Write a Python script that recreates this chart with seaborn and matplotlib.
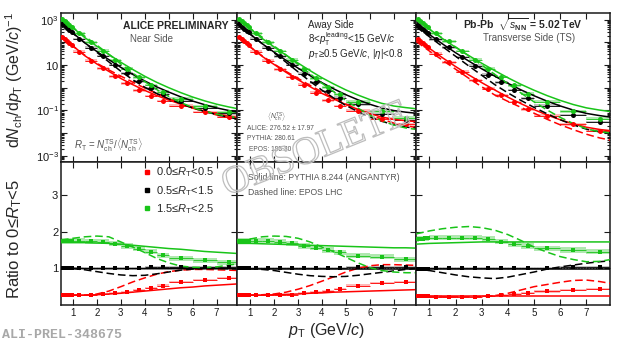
import numpy as np
import pandas as pd
import matplotlib
matplotlib.use("Agg")
import matplotlib.pyplot as plt
import seaborn as sns
from matplotlib import patheffects
from matplotlib.lines import Line2D
from matplotlib.ticker import FixedLocator, LogLocator, NullFormatter

# ---------------- data ----------------
pt_data = [0.55, 0.65, 0.75, 0.85, 0.95, 1.25, 1.75, 2.25, 2.75, 3.25, 3.75, 4.25, 4.75, 5.5, 6.5, 7.5]
pt_halfw = [0.05, 0.05, 0.05, 0.05, 0.05, 0.25, 0.25, 0.25, 0.25, 0.25, 0.25, 0.25, 0.25, 0.5, 0.5, 0.5]
pt_model = [0.5, 1.0, 1.5, 2.0, 2.5, 3.0, 3.5, 4.0, 4.5, 5.0, 5.5, 6.0, 6.5, 7.0, 7.5, 8.0]

classes = ["0.0≤$R_{\\rm T}$<0.5", "0.5≤$R_{\\rm T}$<1.5", "1.5≤$R_{\\rm T}$<2.5"]
sides = ["near", "away", "trans"]

# inclusive (0<=RT<5) spectra
incl_data = {
    "near":  [620, 510, 420, 345, 285, 143, 58, 25, 10, 4.3, 1.9, 0.91, 0.49, 0.26, 0.125, 0.072],
    "away":  [620, 500, 410, 335, 275, 145, 58, 24, 10.5, 4.2, 1.7, 0.70, 0.36, 0.18, 0.07, 0.038],
    "trans": [600, 490, 400, 325, 265, 140, 60, 23, 9.5, 3.8, 1.7, 0.78, 0.34, 0.155, 0.06, 0.03],
}
incl_pythia = {
    "near":  [700, 260, 95, 40, 17.5, 8, 3.9, 2.0, 1.1, 0.65, 0.40, 0.26, 0.18, 0.13, 0.10, 0.08],
    "away":  [650, 240, 90, 38, 16.5, 7.5, 3.5, 1.7, 0.9, 0.5, 0.3, 0.19, 0.13, 0.10, 0.085, 0.075],
    "trans": [620, 230, 88, 36, 15.5, 7, 3.3, 1.6, 0.82, 0.45, 0.26, 0.16, 0.105, 0.075, 0.06, 0.05],
}
incl_epos = {
    "near":  [650, 250, 100, 40, 16, 6.5, 2.8, 1.3, 0.65, 0.36, 0.21, 0.13, 0.09, 0.065, 0.05, 0.04],
    "away":  [600, 230, 92, 37, 15, 6, 2.4, 1.0, 0.45, 0.21, 0.11, 0.06, 0.037, 0.025, 0.019, 0.016],
    "trans": [500, 190, 75, 30, 12, 4.8, 1.9, 0.78, 0.33, 0.15, 0.072, 0.037, 0.021, 0.013, 0.0095, 0.008],
}

# ratios to 0<=RT<5 : data
ratio_data = {
    "near": [
        [0.27, 0.27, 0.27, 0.27, 0.27, 0.27, 0.27, 0.29, 0.32, 0.36, 0.40, 0.47, 0.53, 0.62, 0.68, 0.73],
        [1.0, 1.0, 1.0, 1.0, 1.0, 1.0, 1.0, 1.0, 1.01, 1.01, 1.02, 1.03, 1.04, 1.03, 1.03, 1.03],
        [1.75, 1.75, 1.75, 1.75, 1.75, 1.75, 1.74, 1.73, 1.67, 1.61, 1.54, 1.45, 1.36, 1.28, 1.22, 1.16],
    ],
    "away": [
        [0.27, 0.27, 0.27, 0.27, 0.27, 0.27, 0.27, 0.27, 0.28, 0.32, 0.35, 0.39, 0.43, 0.53, 0.61, 0.63],
        [1.0, 1.0, 1.0, 1.0, 1.0, 1.0, 1.0, 1.0, 1.0, 1.01, 1.01, 1.02, 1.02, 1.03, 1.03, 1.04],
        [1.75, 1.75, 1.75, 1.75, 1.75, 1.75, 1.75, 1.73, 1.68, 1.61, 1.56, 1.50, 1.44, 1.34, 1.32, 1.25],
    ],
    "trans": [
        [0.24, 0.24, 0.24, 0.24, 0.24, 0.23, 0.22, 0.22, 0.22, 0.24, 0.27, 0.30, 0.33, 0.37, 0.41, 0.43],
        [0.99, 0.99, 0.99, 0.99, 0.99, 1.0, 1.0, 1.0, 1.0, 1.0, 1.01, 1.01, 1.02, 1.02, 1.03, 1.03],
        [1.80, 1.81, 1.81, 1.82, 1.82, 1.83, 1.84, 1.84, 1.83, 1.80, 1.73, 1.66, 1.61, 1.55, 1.50, 1.45],
    ],
}
ratio_syst = [0.03, 0.03, 0.07]

# ratios : PYTHIA 8.244 (Angantyr)
ratio_pythia = {
    "near": [
        [0.27, 0.27, 0.27, 0.28, 0.30, 0.32, 0.35, 0.38, 0.41, 0.44, 0.47, 0.49, 0.52, 0.54, 0.56, 0.58],
        [1.0, 1.0, 0.99, 0.99, 0.99, 0.99, 0.99, 0.99, 0.99, 0.99, 0.99, 0.99, 0.99, 0.99, 0.99, 0.99],
        [1.70, 1.70, 1.70, 1.69, 1.68, 1.66, 1.63, 1.60, 1.57, 1.54, 1.52, 1.49, 1.46, 1.44, 1.42, 1.40],
    ],
    "away": [
        [0.27, 0.27, 0.27, 0.28, 0.29, 0.30, 0.32, 0.33, 0.35, 0.36, 0.37, 0.38, 0.39, 0.40, 0.41, 0.42],
        [0.98, 0.98, 0.98, 0.98, 0.98, 0.98, 0.98, 0.98, 0.98, 0.98, 0.98, 0.98, 0.98, 0.98, 0.98, 0.98],
        [1.68, 1.68, 1.67, 1.66, 1.65, 1.64, 1.63, 1.62, 1.61, 1.60, 1.59, 1.58, 1.57, 1.56, 1.56, 1.55],
    ],
    "trans": [
        [0.24, 0.24, 0.24, 0.24, 0.24, 0.24, 0.24, 0.24, 0.24, 0.24, 0.24, 0.24, 0.24, 0.24, 0.24, 0.24],
        [0.98, 0.98, 0.98, 0.98, 0.98, 0.98, 0.98, 0.98, 0.98, 0.98, 0.98, 0.98, 0.98, 0.98, 0.98, 0.98],
        [1.66, 1.68, 1.69, 1.70, 1.71, 1.72, 1.72, 1.72, 1.72, 1.72, 1.72, 1.72, 1.72, 1.72, 1.72, 1.72],
    ],
}
# ratios : EPOS LHC
ratio_epos = {
    "near": [
        [0.27, 0.27, 0.27, 0.30, 0.38, 0.50, 0.63, 0.74, 0.84, 0.91, 0.95, 0.97, 0.97, 0.96, 0.95, 0.94],
        [1.0, 0.99, 0.96, 0.91, 0.86, 0.82, 0.80, 0.81, 0.85, 0.90, 0.95, 0.98, 1.0, 1.0, 0.99, 0.98],
        [1.77, 1.82, 1.86, 1.88, 1.86, 1.72, 1.58, 1.43, 1.27, 1.15, 1.06, 1.03, 1.02, 1.04, 1.09, 1.13],
    ],
    "away": [
        [0.27, 0.27, 0.28, 0.30, 0.35, 0.43, 0.53, 0.65, 0.77, 0.90, 1.00, 1.07, 1.10, 1.10, 1.09, 1.08],
        [1.0, 0.99, 0.97, 0.94, 0.89, 0.84, 0.80, 0.78, 0.77, 0.78, 0.81, 0.85, 0.89, 0.93, 0.97, 1.0],
        [1.74, 1.80, 1.86, 1.88, 1.87, 1.82, 1.72, 1.58, 1.45, 1.30, 1.15, 1.02, 0.94, 0.90, 0.88, 0.88],
    ],
    "trans": [
        [0.22, 0.22, 0.22, 0.22, 0.22, 0.23, 0.25, 0.32, 0.41, 0.50, 0.56, 0.62, 0.67, 0.68, 0.64, 0.58],
        [0.97, 0.94, 0.88, 0.82, 0.77, 0.74, 0.72, 0.76, 0.83, 0.90, 0.98, 1.04, 1.09, 1.14, 1.18, 1.21],
        [1.94, 2.02, 2.08, 2.12, 2.14, 2.11, 2.04, 1.92, 1.76, 1.58, 1.44, 1.32, 1.24, 1.18, 1.19, 1.25],
    ],
}

colors = ["#ff0000", "#000000", "#19c419"]
light = ["#ffb8b8", "#c0c0c0", "#b0e8b0"]
xlims = [(0.5, 7.85), (0.45, 7.93), (0.49, 7.9)]

# ---------------- style ----------------
sns.set_theme(style="white")
plt.rcParams['font.family'] = ['Liberation Sans', 'DejaVu Sans']
plt.rcParams['mathtext.fontset'] = 'custom'
plt.rcParams['mathtext.rm'] = 'Liberation Sans'
plt.rcParams['mathtext.it'] = 'Liberation Sans:italic'
plt.rcParams['mathtext.bf'] = 'Liberation Sans:bold'

W, H = 620, 345
fig = plt.figure(figsize=(W / 100, H / 100), dpi=100)
fx = lambda px: px / W
fy = lambda py: 1 - py / H
gs = fig.add_gridspec(2, 3, left=fx(61), right=fx(610), top=fy(13), bottom=fy(305),
                      hspace=0, wspace=0, width_ratios=[176, 179, 194], height_ratios=[149, 143])

pt_d = np.array(pt_data)
hw = np.array(pt_halfw)
dashed = (0, (5, 2.5))
fac = 1.15

for j, side in enumerate(sides):
    axt = fig.add_subplot(gs[0, j])
    axb = fig.add_subplot(gs[1, j])
    for k in range(3):
        c, lc = colors[k], light[k]
        r = np.array(ratio_data[side][k])
        spec = np.array(incl_data[side]) * r
        sp_py = np.array(incl_pythia[side]) * np.array(ratio_pythia[side][k])
        sp_ep = np.array(incl_epos[side]) * np.array(ratio_epos[side][k])
        # top: spectra
        axt.bar(pt_d, spec * fac - spec / fac, bottom=spec / fac, width=2 * hw,
                color=lc, linewidth=0, zorder=1)
        axt.errorbar(pt_d, spec, xerr=hw, fmt='none', ecolor=c, elinewidth=0.6, zorder=2)
        sns.lineplot(x=pt_model, y=sp_py, ax=axt, color=c, linewidth=1.1, zorder=3)
        sns.lineplot(x=pt_model, y=sp_ep, ax=axt, color=c, linewidth=1.1, linestyle=dashed, zorder=3)
        sns.scatterplot(x=pt_d, y=spec, ax=axt, color=c, marker='o', s=13, linewidth=0,
                        zorder=5, legend=False)
        # bottom: ratios
        e = ratio_syst[k]
        axb.bar(pt_d, 2 * e, bottom=r - e, width=2 * hw, color=lc, linewidth=0, zorder=1)
        axb.errorbar(pt_d, r, xerr=hw, fmt='none', ecolor=c, elinewidth=0.6, zorder=2)
        sns.lineplot(x=pt_model, y=ratio_pythia[side][k], ax=axb, color=c, linewidth=1.1, zorder=3)
        sns.lineplot(x=pt_model, y=ratio_epos[side][k], ax=axb, color=c, linewidth=1.1,
                     linestyle=dashed, zorder=3)
        sns.scatterplot(x=pt_d, y=r, ax=axb, color=c, marker='s', s=12, linewidth=0,
                        zorder=5, legend=False)
    axb.axhline(1.0, color='k', linestyle=':', linewidth=0.8, zorder=2)

    # axes
    axt.set_yscale('log')
    axt.set_ylim(10 ** -3.28, 10 ** 3.3)
    axb.set_ylim(0, 3.9)
    for ax in (axt, axb):
        ax.set_xlim(*xlims[j])
        ax.set_xticks([1, 2, 3, 4, 5, 6, 7])
        ax.set_xlabel("")
        ax.set_ylabel("")
        ax.tick_params(which='both', direction='in', top=True, right=True, bottom=True, left=True,
                       colors='k', width=0.8)
        ax.tick_params(which='major', length=4.5)
        ax.tick_params(which='minor', length=2.5)
        for s in ax.spines.values():
            s.set_linewidth(1.1)
            s.set_color('k')
    axt.yaxis.set_major_locator(FixedLocator([10.0 ** p for p in range(-3, 4)]))
    axt.yaxis.set_minor_locator(LogLocator(base=10, subs=np.arange(2, 10), numticks=20))
    axt.yaxis.set_minor_formatter(NullFormatter())
    axt.set_xticklabels([])
    axb.set_yticks([1, 2, 3])
    axb.set_xticklabels([str(v) for v in range(1, 8)], fontsize=7)
    axb.tick_params(axis='x', pad=2)
    if j == 0:
        lab = {3: r'$10^{3}$', 1: r'$10$', -1: r'$10^{-1}$', -3: r'$10^{-3}$'}
        axt.set_yticklabels([lab.get(p, '') for p in range(-3, 4)], fontsize=8)
        axb.set_yticklabels(['1', '2', '3'], fontsize=8)
        axt.tick_params(axis='y', pad=1.5)
        axb.tick_params(axis='y', pad=2)
        axb.legend(handles=[Line2D([], [], marker='s', color=colors[k], linestyle='none', markersize=3.5)
                            for k in range(3)],
                   labels=classes, loc='upper left', bbox_to_anchor=(0.45, 0.99), frameon=False,
                   fontsize=8, handlelength=0.8, handletextpad=0.4, labelspacing=0.4,
                   borderpad=0.2, borderaxespad=0)
    else:
        axt.set_yticklabels([])
        axb.set_yticklabels([])

# ---------------- texts ----------------
fig.text(fx(14), fy(80), r'd$N_{\rm ch}$/d$p_{\rm T}$ (GeV/$c$)$^{-1}$', rotation=90,
         ha='center', va='center', fontsize=11.5)
fig.text(fx(15), fy(239), 'Ratio to 0≤$R_{\\rm T}$<5', rotation=90, ha='center', va='center', fontsize=12)
fig.text(fx(327), fy(330), r'$p_{\rm T}$ (GeV/$c$)', ha='center', va='center', fontsize=11.5)

fig.text(fx(229), fy(26), 'ALICE PRELIMINARY', ha='right', va='center', fontsize=7.5, weight='bold')
fig.text(fx(151), fy(39), 'Near Side', ha='center', va='center', fontsize=7, color='#555555')
fig.text(fx(109), fy(145), r'$R_{\rm T}$ = $N_{\rm ch}^{\rm TS}$/$\langle N_{\rm ch}^{\rm TS}\rangle$',
         ha='center', va='center', fontsize=7, color='#555555')

fig.text(fx(307.5), fy(25), 'Away Side', ha='left', va='center', fontsize=7)
fig.text(fx(307.5), fy(39.5), r'8<$p_{\rm T}^{\rm leading}$<15 GeV/$c$', ha='left', va='center', fontsize=7)
fig.text(fx(307.5), fy(54), r'$p_{\rm T}$≥0.5 GeV/$c$, |$\eta$|<0.8', ha='left', va='center', fontsize=7)
fig.text(fx(277), fy(117), r'$\langle N_{\rm ch}^{\rm TS}\rangle$', ha='center', va='center', fontsize=4.8, color='#555555')
fig.text(fx(247), fy(128), 'ALICE: 276.52 ± 17.97', ha='left', va='center', fontsize=4.8, color='#555555')
fig.text(fx(247), fy(138), 'PYTHIA: 280.61', ha='left', va='center', fontsize=4.8, color='#555555')
fig.text(fx(249), fy(150), 'EPOS: 195.30', ha='left', va='center', fontsize=4.8, color='#555555')

fig.text(fx(463), fy(25), r'Pb-Pb  $\sqrt{s_{\mathbf{NN}}}$ = 5.02 TeV', ha='left', va='center',
         fontsize=7.5, weight='bold')
fig.text(fx(529), fy(38), 'Transverse Side (TS)', ha='center', va='center', fontsize=7, color='#555555')

fig.text(fx(248), fy(177), 'Solid line: PYTHIA 8.244 (ANGANTYR)', ha='left', va='center', fontsize=6.2, color='#555555')
fig.text(fx(248), fy(193), 'Dashed line: EPOS LHC', ha='left', va='center', fontsize=6.2, color='#555555')

fig.text(fx(2), fy(335), 'ALI-PREL-348675', ha='left', va='center', fontsize=9.5,
         family='Liberation Mono', weight='bold', color='#a8a8a8')

fig.text(fx(316), fy(150), 'OBSOLETE', rotation=22, ha='center', va='center', fontsize=28,
         family='Liberation Serif', color=(1, 1, 1, 0), zorder=20,
         path_effects=[patheffects.withStroke(linewidth=0.9, foreground='#bdbdbd')])

fig.savefig('out.png', dpi=100)
